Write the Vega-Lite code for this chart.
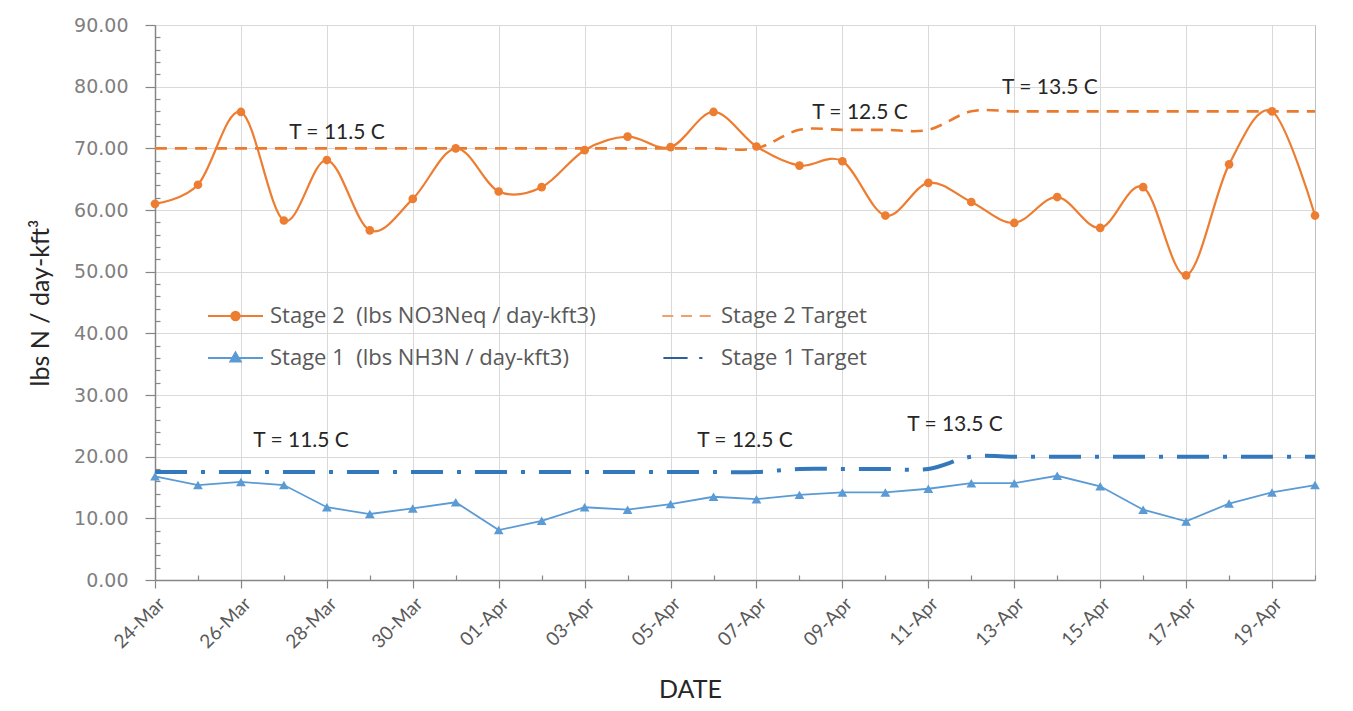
{
  "$schema": "https://vega.github.io/schema/vega-lite/v6.json",
  "width": 1160,
  "height": 555,
  "autosize": {"type": "none"},
  "padding": {"left": 155, "top": 25, "right": 38, "bottom": 131},
  "background": "white",
  "config": {
    "view": {"stroke": "#bfbfbf", "strokeWidth": 1},
    "legend": {"labelLimit": 0, "padding": 0, "titlePadding": 0}
  },
  "datasets": {
    "lines": [
      {"date": "2020-03-24", "series": "Stage 2\u00a0 (lbs NO3Neq / day-kft3)", "value": 61.0},
      {"date": "2020-03-25", "series": "Stage 2\u00a0 (lbs NO3Neq / day-kft3)", "value": 64.1},
      {"date": "2020-03-26", "series": "Stage 2\u00a0 (lbs NO3Neq / day-kft3)", "value": 75.9},
      {"date": "2020-03-27", "series": "Stage 2\u00a0 (lbs NO3Neq / day-kft3)", "value": 58.3},
      {"date": "2020-03-28", "series": "Stage 2\u00a0 (lbs NO3Neq / day-kft3)", "value": 68.1},
      {"date": "2020-03-29", "series": "Stage 2\u00a0 (lbs NO3Neq / day-kft3)", "value": 56.7},
      {"date": "2020-03-30", "series": "Stage 2\u00a0 (lbs NO3Neq / day-kft3)", "value": 61.8},
      {"date": "2020-03-31", "series": "Stage 2\u00a0 (lbs NO3Neq / day-kft3)", "value": 70.0},
      {"date": "2020-04-01", "series": "Stage 2\u00a0 (lbs NO3Neq / day-kft3)", "value": 63.0},
      {"date": "2020-04-02", "series": "Stage 2\u00a0 (lbs NO3Neq / day-kft3)", "value": 63.7},
      {"date": "2020-04-03", "series": "Stage 2\u00a0 (lbs NO3Neq / day-kft3)", "value": 69.7},
      {"date": "2020-04-04", "series": "Stage 2\u00a0 (lbs NO3Neq / day-kft3)", "value": 71.9},
      {"date": "2020-04-05", "series": "Stage 2\u00a0 (lbs NO3Neq / day-kft3)", "value": 70.2},
      {"date": "2020-04-06", "series": "Stage 2\u00a0 (lbs NO3Neq / day-kft3)", "value": 75.9},
      {"date": "2020-04-07", "series": "Stage 2\u00a0 (lbs NO3Neq / day-kft3)", "value": 70.3},
      {"date": "2020-04-08", "series": "Stage 2\u00a0 (lbs NO3Neq / day-kft3)", "value": 67.2},
      {"date": "2020-04-09", "series": "Stage 2\u00a0 (lbs NO3Neq / day-kft3)", "value": 67.9},
      {"date": "2020-04-10", "series": "Stage 2\u00a0 (lbs NO3Neq / day-kft3)", "value": 59.1},
      {"date": "2020-04-11", "series": "Stage 2\u00a0 (lbs NO3Neq / day-kft3)", "value": 64.4},
      {"date": "2020-04-12", "series": "Stage 2\u00a0 (lbs NO3Neq / day-kft3)", "value": 61.3},
      {"date": "2020-04-13", "series": "Stage 2\u00a0 (lbs NO3Neq / day-kft3)", "value": 57.9},
      {"date": "2020-04-14", "series": "Stage 2\u00a0 (lbs NO3Neq / day-kft3)", "value": 62.1},
      {"date": "2020-04-15", "series": "Stage 2\u00a0 (lbs NO3Neq / day-kft3)", "value": 57.1},
      {"date": "2020-04-16", "series": "Stage 2\u00a0 (lbs NO3Neq / day-kft3)", "value": 63.7},
      {"date": "2020-04-17", "series": "Stage 2\u00a0 (lbs NO3Neq / day-kft3)", "value": 49.4},
      {"date": "2020-04-18", "series": "Stage 2\u00a0 (lbs NO3Neq / day-kft3)", "value": 67.4},
      {"date": "2020-04-19", "series": "Stage 2\u00a0 (lbs NO3Neq / day-kft3)", "value": 76.0},
      {"date": "2020-04-20", "series": "Stage 2\u00a0 (lbs NO3Neq / day-kft3)", "value": 59.1},
      {"date": "2020-03-24", "series": "Stage 1\u00a0 (lbs NH3N / day-kft3)", "value": 16.8},
      {"date": "2020-03-25", "series": "Stage 1\u00a0 (lbs NH3N / day-kft3)", "value": 15.4},
      {"date": "2020-03-26", "series": "Stage 1\u00a0 (lbs NH3N / day-kft3)", "value": 15.9},
      {"date": "2020-03-27", "series": "Stage 1\u00a0 (lbs NH3N / day-kft3)", "value": 15.4},
      {"date": "2020-03-28", "series": "Stage 1\u00a0 (lbs NH3N / day-kft3)", "value": 11.8},
      {"date": "2020-03-29", "series": "Stage 1\u00a0 (lbs NH3N / day-kft3)", "value": 10.7},
      {"date": "2020-03-30", "series": "Stage 1\u00a0 (lbs NH3N / day-kft3)", "value": 11.6},
      {"date": "2020-03-31", "series": "Stage 1\u00a0 (lbs NH3N / day-kft3)", "value": 12.6},
      {"date": "2020-04-01", "series": "Stage 1\u00a0 (lbs NH3N / day-kft3)", "value": 8.1},
      {"date": "2020-04-02", "series": "Stage 1\u00a0 (lbs NH3N / day-kft3)", "value": 9.6},
      {"date": "2020-04-03", "series": "Stage 1\u00a0 (lbs NH3N / day-kft3)", "value": 11.8},
      {"date": "2020-04-04", "series": "Stage 1\u00a0 (lbs NH3N / day-kft3)", "value": 11.4},
      {"date": "2020-04-05", "series": "Stage 1\u00a0 (lbs NH3N / day-kft3)", "value": 12.3},
      {"date": "2020-04-06", "series": "Stage 1\u00a0 (lbs NH3N / day-kft3)", "value": 13.5},
      {"date": "2020-04-07", "series": "Stage 1\u00a0 (lbs NH3N / day-kft3)", "value": 13.1},
      {"date": "2020-04-08", "series": "Stage 1\u00a0 (lbs NH3N / day-kft3)", "value": 13.8},
      {"date": "2020-04-09", "series": "Stage 1\u00a0 (lbs NH3N / day-kft3)", "value": 14.2},
      {"date": "2020-04-10", "series": "Stage 1\u00a0 (lbs NH3N / day-kft3)", "value": 14.2},
      {"date": "2020-04-11", "series": "Stage 1\u00a0 (lbs NH3N / day-kft3)", "value": 14.8},
      {"date": "2020-04-12", "series": "Stage 1\u00a0 (lbs NH3N / day-kft3)", "value": 15.7},
      {"date": "2020-04-13", "series": "Stage 1\u00a0 (lbs NH3N / day-kft3)", "value": 15.7},
      {"date": "2020-04-14", "series": "Stage 1\u00a0 (lbs NH3N / day-kft3)", "value": 16.9},
      {"date": "2020-04-15", "series": "Stage 1\u00a0 (lbs NH3N / day-kft3)", "value": 15.2},
      {"date": "2020-04-16", "series": "Stage 1\u00a0 (lbs NH3N / day-kft3)", "value": 11.4},
      {"date": "2020-04-17", "series": "Stage 1\u00a0 (lbs NH3N / day-kft3)", "value": 9.5},
      {"date": "2020-04-18", "series": "Stage 1\u00a0 (lbs NH3N / day-kft3)", "value": 12.4},
      {"date": "2020-04-19", "series": "Stage 1\u00a0 (lbs NH3N / day-kft3)", "value": 14.2},
      {"date": "2020-04-20", "series": "Stage 1\u00a0 (lbs NH3N / day-kft3)", "value": 15.4},
      {"date": "2020-03-24", "series": "Stage 2 Target", "value": 70},
      {"date": "2020-03-25", "series": "Stage 2 Target", "value": 70},
      {"date": "2020-03-26", "series": "Stage 2 Target", "value": 70},
      {"date": "2020-03-27", "series": "Stage 2 Target", "value": 70},
      {"date": "2020-03-28", "series": "Stage 2 Target", "value": 70},
      {"date": "2020-03-29", "series": "Stage 2 Target", "value": 70},
      {"date": "2020-03-30", "series": "Stage 2 Target", "value": 70},
      {"date": "2020-03-31", "series": "Stage 2 Target", "value": 70},
      {"date": "2020-04-01", "series": "Stage 2 Target", "value": 70},
      {"date": "2020-04-02", "series": "Stage 2 Target", "value": 70},
      {"date": "2020-04-03", "series": "Stage 2 Target", "value": 70},
      {"date": "2020-04-04", "series": "Stage 2 Target", "value": 70},
      {"date": "2020-04-05", "series": "Stage 2 Target", "value": 70},
      {"date": "2020-04-06", "series": "Stage 2 Target", "value": 70},
      {"date": "2020-04-07", "series": "Stage 2 Target", "value": 70},
      {"date": "2020-04-08", "series": "Stage 2 Target", "value": 73},
      {"date": "2020-04-09", "series": "Stage 2 Target", "value": 73},
      {"date": "2020-04-10", "series": "Stage 2 Target", "value": 73},
      {"date": "2020-04-11", "series": "Stage 2 Target", "value": 73},
      {"date": "2020-04-12", "series": "Stage 2 Target", "value": 76},
      {"date": "2020-04-13", "series": "Stage 2 Target", "value": 76},
      {"date": "2020-04-14", "series": "Stage 2 Target", "value": 76},
      {"date": "2020-04-15", "series": "Stage 2 Target", "value": 76},
      {"date": "2020-04-16", "series": "Stage 2 Target", "value": 76},
      {"date": "2020-04-17", "series": "Stage 2 Target", "value": 76},
      {"date": "2020-04-18", "series": "Stage 2 Target", "value": 76},
      {"date": "2020-04-19", "series": "Stage 2 Target", "value": 76},
      {"date": "2020-04-20", "series": "Stage 2 Target", "value": 76},
      {"date": "2020-03-24", "series": "Stage 1 Target", "value": 17.5},
      {"date": "2020-03-25", "series": "Stage 1 Target", "value": 17.5},
      {"date": "2020-03-26", "series": "Stage 1 Target", "value": 17.5},
      {"date": "2020-03-27", "series": "Stage 1 Target", "value": 17.5},
      {"date": "2020-03-28", "series": "Stage 1 Target", "value": 17.5},
      {"date": "2020-03-29", "series": "Stage 1 Target", "value": 17.5},
      {"date": "2020-03-30", "series": "Stage 1 Target", "value": 17.5},
      {"date": "2020-03-31", "series": "Stage 1 Target", "value": 17.5},
      {"date": "2020-04-01", "series": "Stage 1 Target", "value": 17.5},
      {"date": "2020-04-02", "series": "Stage 1 Target", "value": 17.5},
      {"date": "2020-04-03", "series": "Stage 1 Target", "value": 17.5},
      {"date": "2020-04-04", "series": "Stage 1 Target", "value": 17.5},
      {"date": "2020-04-05", "series": "Stage 1 Target", "value": 17.5},
      {"date": "2020-04-06", "series": "Stage 1 Target", "value": 17.5},
      {"date": "2020-04-07", "series": "Stage 1 Target", "value": 17.5},
      {"date": "2020-04-08", "series": "Stage 1 Target", "value": 18},
      {"date": "2020-04-09", "series": "Stage 1 Target", "value": 18},
      {"date": "2020-04-10", "series": "Stage 1 Target", "value": 18},
      {"date": "2020-04-11", "series": "Stage 1 Target", "value": 18},
      {"date": "2020-04-12", "series": "Stage 1 Target", "value": 20},
      {"date": "2020-04-13", "series": "Stage 1 Target", "value": 20},
      {"date": "2020-04-14", "series": "Stage 1 Target", "value": 20},
      {"date": "2020-04-15", "series": "Stage 1 Target", "value": 20},
      {"date": "2020-04-16", "series": "Stage 1 Target", "value": 20},
      {"date": "2020-04-17", "series": "Stage 1 Target", "value": 20},
      {"date": "2020-04-18", "series": "Stage 1 Target", "value": 20},
      {"date": "2020-04-19", "series": "Stage 1 Target", "value": 20},
      {"date": "2020-04-20", "series": "Stage 1 Target", "value": 20}
    ],
    "notes": [
      {"date": "2020-03-28T05:40:00Z", "value": 72.5, "label": "T = 11.5 C"},
      {"date": "2020-04-09T09:50:00Z", "value": 75.7, "label": "T = 12.5 C"},
      {"date": "2020-04-13T19:55:00Z", "value": 79.8, "label": "T = 13.5 C"},
      {"date": "2020-03-27T09:35:00Z", "value": 22.5, "label": "T = 11.5 C"},
      {"date": "2020-04-06T17:35:00Z", "value": 22.5, "label": "T = 12.5 C"},
      {"date": "2020-04-11T14:55:00Z", "value": 25.1, "label": "T = 13.5 C"}
    ]
  },
  "encoding": {
    "x": {
      "field": "date",
      "type": "temporal",
      "scale": {
        "type": "utc",
        "nice": false,
        "domain": [
          {"year": 2020, "month": 3, "date": 24, "utc": true},
          {"year": 2020, "month": 4, "date": 20, "utc": true}
        ]
      },
      "axis": {
        "title": "DATE",
        "titleFont": "Lato",
        "titleFontSize": 25,
        "titleFontWeight": "normal",
        "titleColor": "#262626",
        "titlePadding": 26,
        "titleX": 535,
        "tickCount": {"interval": "day", "step": 1},
        "labelExpr": "round((datum.value - utc(2020,2,24))/864e5) % 2 == 0 ? utcFormat(datum.value, '%d-%b') : ''",
        "labelAngle": -45,
        "labelFont": "Lato",
        "labelFontSize": 19,
        "labelColor": "#595959",
        "labelOverlap": false,
        "labelPadding": 6,
        "labelBound": false,
        "labelFlush": false,
        "domainColor": "#868686",
        "domainWidth": 1.5,
        "tickColor": "#868686",
        "tickWidth": 1.2,
        "tickSize": {"condition": {"test": "round((datum.value - utc(2020,2,24))/864e5) % 2 == 0", "value": 8}, "value": -5},
        "grid": true,
        "gridColor": "#d9d9d9",
        "gridWidth": 1,
        "gridOpacity": {"condition": {"test": "round((datum.value - utc(2020,2,24))/864e5) % 2 == 0", "value": 1}, "value": 0}
      }
    },
    "y": {
      "field": "value",
      "type": "quantitative",
      "scale": {"domain": [0, 90], "nice": false, "zero": true},
      "axis": {
        "title": "lbs N / day-kft³",
        "titleFont": "Lato",
        "titleFontSize": 25,
        "titleFontWeight": "normal",
        "titleColor": "#262626",
        "titlePadding": 20,
        "values": [0, 2, 4, 6, 8, 10, 12, 14, 16, 18, 20, 22, 24, 26, 28, 30, 32, 34, 36, 38, 40, 42, 44, 46, 48, 50, 52, 54, 56, 58, 60, 62, 64, 66, 68, 70, 72, 74, 76, 78, 80, 82, 84, 86, 88, 90],
        "labelExpr": "datum.value % 10 == 0 ? format(datum.value, '.2f') : ''",
        "labelFont": "DejaVu Sans",
        "labelFontSize": 19,
        "labelColor": "#7f7f7f",
        "labelOverlap": false,
        "labelPadding": 17,
        "labelBound": false,
        "labelFlush": false,
        "domainColor": "#868686",
        "domainWidth": 1.5,
        "tickColor": "#868686",
        "tickWidth": 1.2,
        "tickSize": {"condition": {"test": "datum.value % 10 == 0", "value": 10}, "value": -5},
        "grid": true,
        "gridColor": "#d9d9d9",
        "gridWidth": 1,
        "gridOpacity": {"condition": {"test": "datum.value % 10 == 0", "value": 1}, "value": 0}
      }
    }
  },
  "layer": [
    {
      "data": {"name": "lines"},
      "transform": [{"filter": "datum.series == 'Stage 2 Target'"}],
      "mark": {"type": "line", "interpolate": "cardinal", "color": "#E97A2E", "strokeWidth": 2.6, "strokeDash": [12, 8]}
    },
    {
      "data": {"name": "lines"},
      "transform": [{"filter": "datum.series == 'Stage 1 Target'"}],
      "mark": {"type": "line", "interpolate": "cardinal", "color": "#3478BC", "strokeWidth": 4, "strokeDash": [32, 14, 4, 14]}
    },
    {
      "data": {"name": "lines"},
      "transform": [{"filter": "indexof(datum.series, 'Stage 2\u00a0') == 0"}],
      "mark": {"type": "line", "interpolate": "cardinal", "color": "#ED7D31", "strokeWidth": 2.2}
    },
    {
      "data": {"name": "lines"},
      "transform": [{"filter": "indexof(datum.series, 'Stage 1\u00a0') == 0"}],
      "mark": {"type": "line", "interpolate": "linear", "color": "#5B9BD5", "strokeWidth": 1.8}
    },
    {
      "data": {"name": "lines"},
      "transform": [{"filter": "indexof(datum.series, 'Stage 2\u00a0') == 0"}],
      "mark": {"type": "point", "shape": "circle", "filled": true, "size": 75, "opacity": 1, "color": "#ED7D31"}
    },
    {
      "data": {"name": "lines"},
      "transform": [{"filter": "indexof(datum.series, 'Stage 1\u00a0') == 0"}],
      "mark": {"type": "point", "shape": "triangle-up", "filled": true, "size": 95, "opacity": 1, "color": "#5B9BD5"}
    },
    {
      "data": {"name": "notes"},
      "mark": {"type": "text", "font": "Lato", "fontSize": 21, "color": "#262626", "align": "center", "baseline": "middle"},
      "encoding": {"text": {"field": "label"}}
    },
    {
      "data": {"name": "lines"},
      "transform": [{"filter": "false"}],
      "mark": {"type": "point", "filled": true, "opacity": 1},
      "encoding": {
        "shape": {
          "field": "series",
          "scale": {
            "domain": ["Stage 2\u00a0 (lbs NO3Neq / day-kft3)", "Stage 1\u00a0 (lbs NH3N / day-kft3)", "Stage 2 Target", "Stage 1 Target"],
            "range": [
              "M-4,0H1M-1.5,-0.38A0.38,0.38 0 1,1 -1.5,0.38A0.38,0.38 0 1,1 -1.5,-0.38Z",
              "M-4,0H1M-1.5,-0.5L-1.03,0.32H-1.97Z",
              "M-3.7,0H-2.7M-2.0,0H-1.0M-0.3,0H0.7",
              "M-3.6,0H-1.4M-0.35,0H-0.05"
            ]
          },
          "legend": {
            "title": null,
            "orient": "none",
            "legendX": 85,
            "legendY": 279,
            "columns": 2,
            "columnPadding": 62,
            "rowPadding": 19,
            "labelFont": "Open Sans",
            "labelFontSize": 22,
            "labelColor": "#595959",
            "labelLimit": 0,
            "labelOffset": 6,
            "symbolSize": 484,
            "padding": 0
          }
        },
        "fill": {
          "field": "series",
          "scale": {
            "domain": ["Stage 2\u00a0 (lbs NO3Neq / day-kft3)", "Stage 1\u00a0 (lbs NH3N / day-kft3)", "Stage 2 Target", "Stage 1 Target"],
            "range": ["#ED7D31", "#5B9BD5", "#F0A06A", "#2E5F96"]
          }
        },
        "stroke": {
          "field": "series",
          "scale": {
            "domain": ["Stage 2\u00a0 (lbs NO3Neq / day-kft3)", "Stage 1\u00a0 (lbs NH3N / day-kft3)", "Stage 2 Target", "Stage 1 Target"],
            "range": ["#ED7D31", "#5B9BD5", "#F0A06A", "#2E5F96"]
          }
        },
        "strokeWidth": {
          "field": "series",
          "scale": {
            "domain": ["Stage 2\u00a0 (lbs NO3Neq / day-kft3)", "Stage 1\u00a0 (lbs NH3N / day-kft3)", "Stage 2 Target", "Stage 1 Target"],
            "range": [2, 1.8, 2.5, 4]
          }
        }
      }
    }
  ]
}
